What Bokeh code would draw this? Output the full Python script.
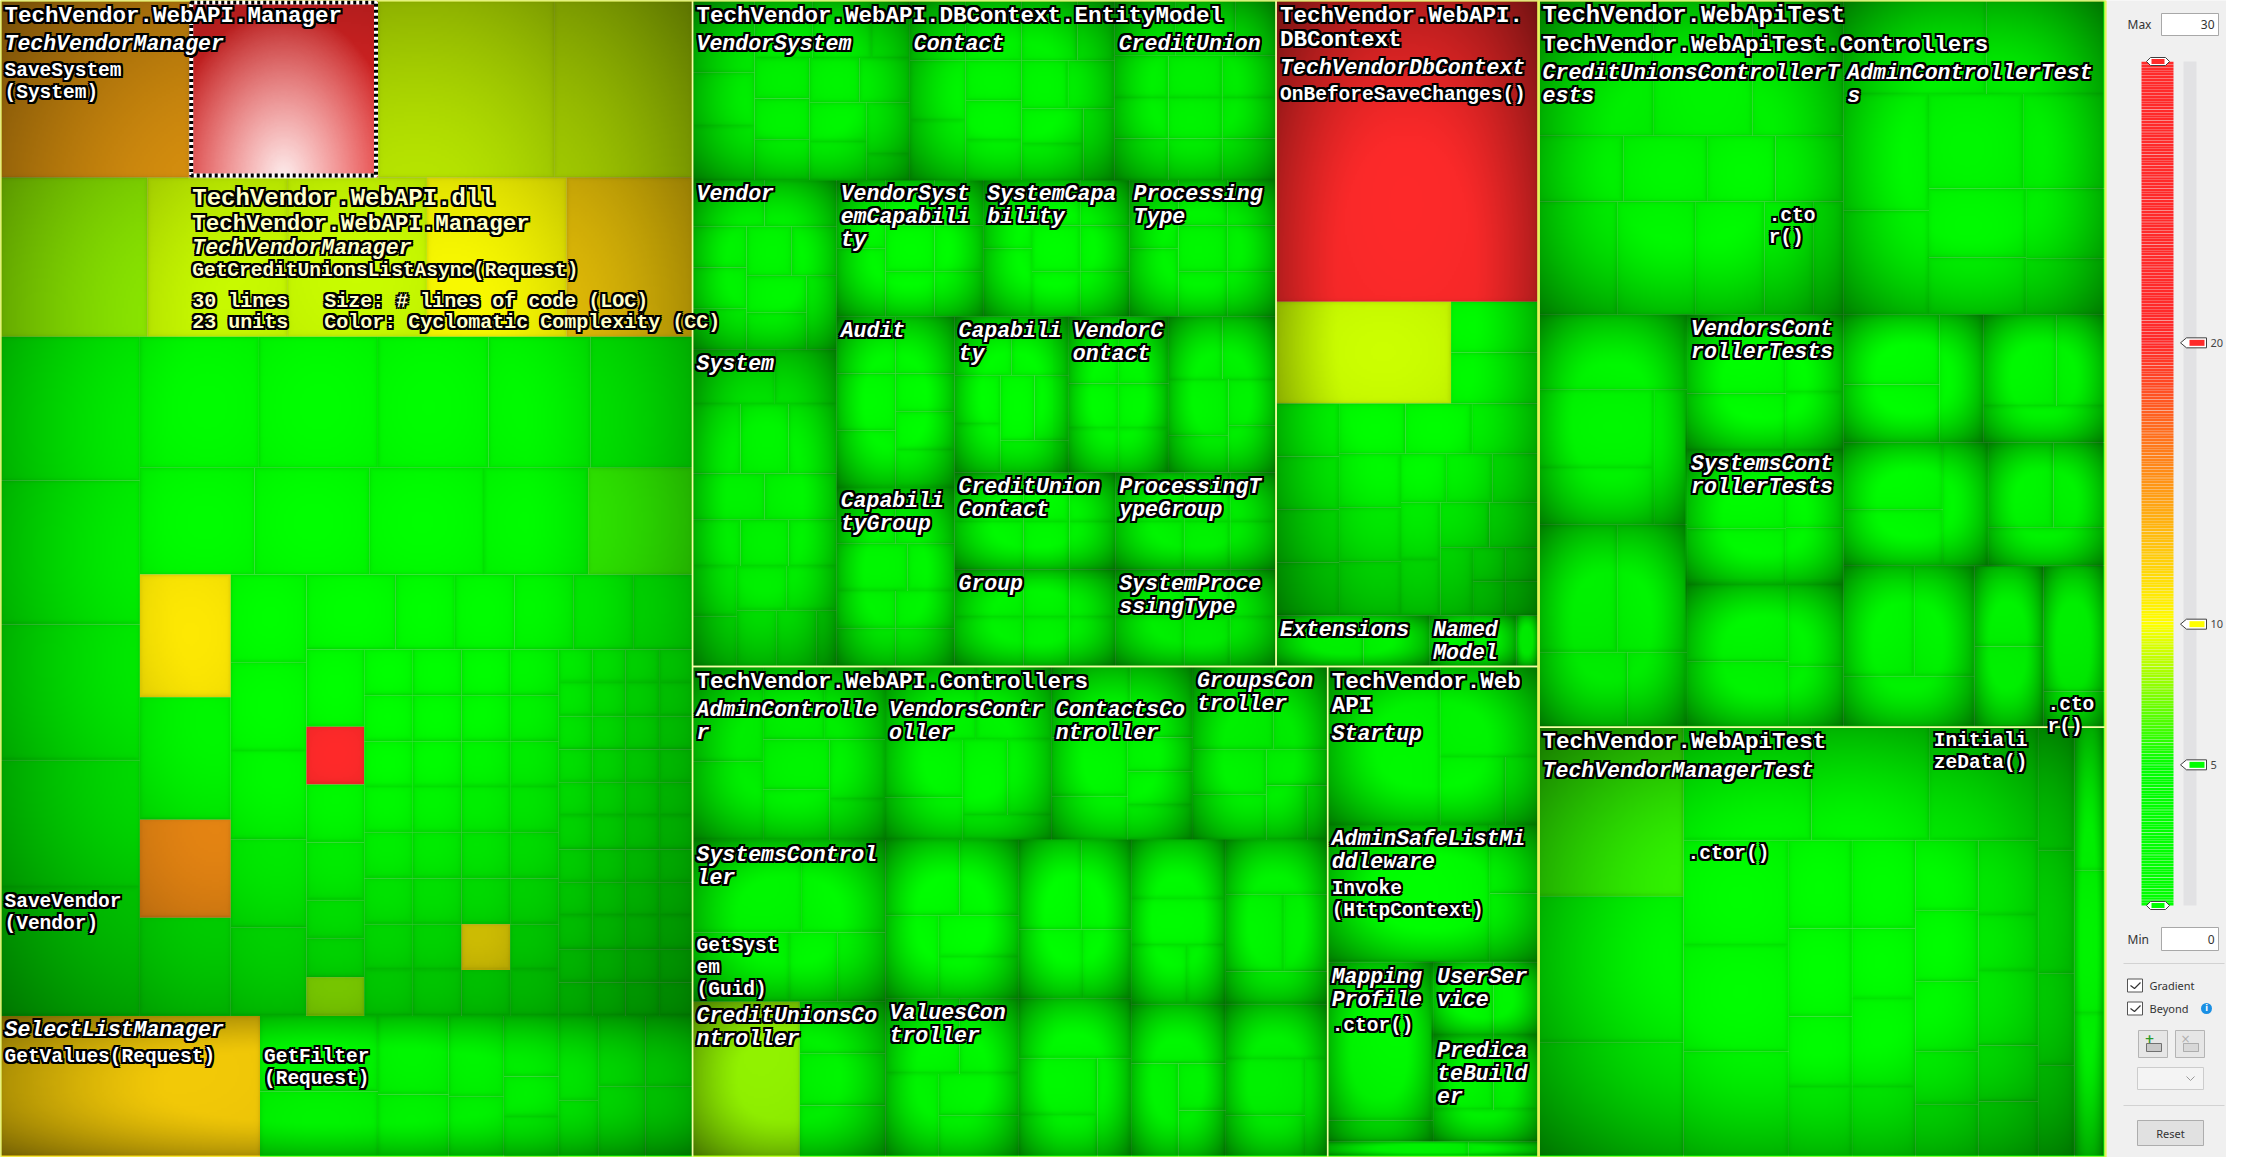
import math
import numpy as np
from bokeh.plotting import figure
from bokeh.core.properties import value
from bokeh.embed import file_html
from bokeh.resources import INLINE

# sizes = lines of code (LOC), colour = cyclomatic complexity (CC)

# --- TechVendor.WebAPI.Manager : TechVendorManager
tvm_row1_loc = [30, 30, 28, 22]
tvm_row1_cc = [14, 23, 9, 9]
tvm_row2_loc = [21, 20, 20, 20, 18]
tvm_row2_cc = [8, 9, 9, 10, 12]
tvm_col1_loc = [18, 18, 17, 16, 16]
tvm_col1_cc = [3, 2, 4, 3, 4]
tvm_rowa_loc = [14, 14, 13, 12, 12]
tvm_rowa_cc = [3, 2, 2, 3, 2]
tvm_rowb_loc = [11, 11, 11, 10, 10]
tvm_rowb_cc = [2, 3, 2, 2, 6]
tvm_colx1_loc = [10, 10, 8, 8]
tvm_colx1_cc = [11, 3, 15, 2]
tvm_colx2_loc = [6, 6, 6, 6, 6]
tvm_colx2_cc = [2, 3, 2, 2, 3]
tvm_rowr1_loc = [6, 4, 4, 4, 4, 4]
tvm_rowr1_cc = [3, 2, 2, 2, 3, 2]
tvm_gridc1_loc = [4, 3, 3, 3, 2, 2, 2]
tvm_gridc1_cc = [3, 22, 2, 3, 2, 2, 8]
tvm_gridmid_loc = [[2, 2, 2, 2, 2, 2, 2, 2],
                   [2, 2, 2, 2, 2, 2, 2, 2],
                   [2, 2, 2, 2, 2, 2, 2, 2],
                   [2, 2, 2, 2, 2, 2, 2, 2]]
tvm_gridmid_cc = [[2, 3, 2, 2, 3, 2, 2, 2],
                  [3, 2, 2, 3, 2, 2, 3, 2],
                  [2, 2, 3, 2, 2, 2, 11, 2],
                  [2, 3, 2, 2, 3, 2, 2, 3]]
tvm_gridright_loc = [[1, 1, 1, 1, 1, 1, 1, 1, 1, 1, 1],
                     [1, 1, 1, 1, 1, 1, 1, 1, 1, 1, 1],
                     [1, 1, 1, 1, 1, 1, 1, 1, 1, 1, 1],
                     [1, 1, 1, 1, 1, 1, 1, 1, 1, 1, 1]]

# --- TechVendor.WebAPI.Manager : SelectListManager
slm_getvalues_loc, slm_getvalues_cc = 33, 12
slm_cols_loc = [[8, 7], [5, 4], [4, 3], [3, 2, 2], [3, 2]]
slm_cols_cc = [[3, 2], [2, 2], [3, 2], [2, 2, 2], [2, 2]]
slm_tail_loc = [[3, 3], [3, 3]]

# --- TechVendor.WebAPI.DBContext.EntityModel (properties, CC 1)
em_vendorsystem = [4, 3, 3, 3, 3, 2, 2, 2, 2, 2, 2, 2, 2, 2, 1]
em_contact = [3, 3, 3, 3, 3, 2, 2, 2, 2, 2, 2, 2, 2, 2]
em_creditunion = [3, 3, 2, 2, 2, 2, 2, 2, 2, 2, 2, 2]
em_vendor = [3, 3, 2, 2, 2, 2, 2, 2, 2, 2]
em_system = [4, 3, 3, 3, 3, 3, 3, 2, 2, 2, 2, 2, 2, 2, 2, 2, 1]
em_vsc = [3, 3, 2, 2, 2, 2, 2, 2]
em_sc = [3, 3, 2, 2, 2, 2, 2, 2]
em_pt = [3, 3, 2, 2, 2, 2, 2, 2]
em_audit = [3, 3, 3, 3, 2, 2, 2]
em_capgroup = [3, 3, 3, 2, 2, 2, 2, 2]
em_capability = [3, 3, 2, 2, 2, 2, 2]
em_vendorcontact = [3, 3, 2, 2, 2, 2]
em_other = [3, 3, 3, 2, 2, 2]
em_cuc = [3, 3, 2, 2, 2, 2]
em_group = [3, 3, 2, 2, 2, 2]
em_ptg = [3, 3, 2, 2, 2, 2]
em_spt = [3, 3, 2, 2, 2, 2]
property_cc = 1

# --- TechVendor.WebAPI.DBContext
dbc_save_loc, dbc_save_cc = 71, 24
dbc_row2_loc = [16, 4, 4]
dbc_row2_cc = [9, 2, 2]
dbc_rest_loc = [3, 3, 3, 3, 3, 3, 3, 3, 3, 3, 2, 2, 2, 2, 2, 2, 2, 2, 1, 1, 1, 1]
dbc_extensions = [4, 3]
dbc_namedmodel = [2, 2]
dbc_small = [1]

# --- TechVendor.WebAPI.Controllers
ctl_admin = [6, 5, 4, 4, 3, 3, 3, 2]
ctl_vendors = [6, 5, 4, 3, 3, 3, 2]
ctl_contacts = [5, 4, 4, 3, 2, 2, 2]
ctl_groups = [6, 4, 3, 3, 2, 2, 1]
ctl_systems_top = [9, 7]
ctl_systems_bottom = [6, 3, 3]
ctl_cu_loc = [15, 4, 4, 4]
ctl_cu_cc = [8, 2, 3, 2]
ctl_u1 = [5, 4, 4, 3, 3]
ctl_values = [5, 4, 4, 3, 3]
ctl_u2 = [5, 4, 4, 3]
ctl_u3 = [6, 4, 3, 3]
ctl_u4 = [5, 4, 3, 2]
ctl_u5 = [5, 4, 2, 2]
ctl_u6 = [5, 4, 3, 3]
ctl_u7 = [5, 4, 3, 2]

# --- TechVendor.WebAPI
api_startup = [16, 8, 4, 2]
api_invoke_loc = 20
api_safelist_rest = [3, 3]
api_mapping = [15, 2]
api_userservice = [4, 3]
api_predicate = [4, 3, 3]
api_bottom = [2, 1]

# --- TechVendor.WebApiTest.Controllers
tc_cuct_row1 = [14, 12, 11]
tc_cuct_row2 = [5, 5, 4, 4]
tc_cuct_row3 = [8, 8, 7, 5, 3]
tc_act = [12, 10, 9, 8, 8, 7, 6, 5, 5, 4]
tc_l1 = [10, 8, 6, 4]
tc_l2 = [9, 8, 6, 4]
tc_vct = [7, 5, 4, 3]
tc_sct = [7, 5, 4, 3]
tc_m3 = [7, 6, 4, 3]
tc_r1a = [6, 5, 5]
tc_r1b = [6, 4, 4]
tc_r2a = [6, 5, 5]
tc_r2b = [5, 4, 4]
tc_r3a = [7, 6, 6]
tc_r3b = [5, 5]
tc_r3c = [7, 2]

# --- TechVendor.WebApiTest : TechVendorManagerTest
tt_coll_loc = [22, 19, 15]
tt_coll_cc = [6, 2, 2]
tt_top_loc = [13, 12, 11]
tt_top_cc = [2, 2, 3]
tt_ctor_loc = [10, 10, 10]
tt_grid_loc = [[5, 5, 4, 4], [5, 4, 5, 4], [4, 4, 4, 3, 3], [4, 3, 4, 3, 3]]
tt_coln_loc = [4, 4, 3, 3]
tt_other_loc = [4, 4, 4]

default_cc = 2

# colour scale of the legend
cc_min, cc_max = 0, 30
legend_ticks = [20, 10, 5]
cc_stops = [(0, (0, 255, 0)), (5, (0, 255, 0)), (10, (255, 255, 0)),
            (20, (255, 42, 42)), (30, (255, 42, 42))]

# ------------------------------------------------------------------ tree
def leaf(loc, cc=None, label=None):
    return {"kind": "leaf", "loc": loc, "cc": default_cc if cc is None else cc,
            "label": label, "level": "method", "kids": []}


def grp(kind, kids, label=None, level=None):
    return {"kind": kind, "kids": list(kids), "label": label, "level": level}


def H(*kids):
    return grp("h", kids)


def V(*kids):
    return grp("v", kids)


def leaves(locs, ccs=None, labels=None, cc=None):
    labels = labels or {}
    out = []
    for i, l in enumerate(locs):
        c = ccs[i] if ccs is not None else cc
        out.append(leaf(l, c, labels.get(i)))
    return out


def row(locs, ccs=None, labels=None, cc=None):
    return grp("h", leaves(locs, ccs, labels, cc))


def col(locs, ccs=None, labels=None, cc=None):
    return grp("v", leaves(locs, ccs, labels, cc))


def members(locs, cc=None):
    return grp("sq", leaves(locs, cc=cc))


def cls(name, body):
    return grp("h", [body], name, "class")


def ecls(name, locs, cc=None):
    return cls(name, members(locs, cc))


def ns(name, body):
    return grp("h", [body], name, "ns")


def asm(name, body):
    return grp("h", [body], name, "asm")


row1 = leaves(tvm_row1_loc, tvm_row1_cc, {0: "SaveSystem\n(System)"})
hover = row1[1]
tvm = cls("TechVendorManager", V(
    grp("h", row1),
    row(tvm_row2_loc, tvm_row2_cc),
    H(col(tvm_col1_loc, tvm_col1_cc, {4: "SaveVendor\n(Vendor)"}),
      V(row(tvm_rowa_loc, tvm_rowa_cc),
        row(tvm_rowb_loc, tvm_rowb_cc),
        H(col(tvm_colx1_loc, tvm_colx1_cc),
          col(tvm_colx2_loc, tvm_colx2_cc),
          V(row(tvm_rowr1_loc, tvm_rowr1_cc),
            H(col(tvm_gridc1_loc, tvm_gridc1_cc),
              *[col(l, c) for l, c in zip(tvm_gridmid_loc, tvm_gridmid_cc)],
              *[col(l) for l in tvm_gridright_loc])))))))

slm = cls("SelectListManager", H(
    leaf(slm_getvalues_loc, slm_getvalues_cc, "GetValues(Request)"),
    col(slm_cols_loc[0], slm_cols_cc[0], {0: "GetFilter\n(Request)"}),
    *[col(l, c) for l, c in zip(slm_cols_loc[1:], slm_cols_cc[1:])],
    H(*[col(l) for l in slm_tail_loc])))

ns_manager = ns("TechVendor.WebAPI.Manager", V(tvm, slm))

P = property_cc
ns_entity = ns("TechVendor.WebAPI.DBContext.EntityModel", V(
    H(ecls("VendorSystem", em_vendorsystem, P), ecls("Contact", em_contact, P),
      ecls("CreditUnion", em_creditunion, P)),
    H(V(ecls("Vendor", em_vendor, P), ecls("System", em_system, P)),
      V(H(ecls("VendorSyst\nemCapabili\nty", em_vsc, P), ecls("SystemCapa\nbility", em_sc, P),
          ecls("Processing\nType", em_pt, P)),
        H(V(ecls("Audit", em_audit, P), ecls("Capabili\ntyGroup", em_capgroup, P)),
          V(H(ecls("Capabili\nty", em_capability, P), ecls("VendorC\nontact", em_vendorcontact, P),
              ecls(None, em_other, P)),
            H(V(ecls("CreditUnion\nContact", em_cuc, P), ecls("Group", em_group, P)),
              V(ecls("ProcessingT\nypeGroup", em_ptg, P), ecls("SystemProce\nssingType", em_spt, P)))))))))

ns_dbctx = ns("TechVendor.WebAPI.\nDBContext", V(
    cls("TechVendorDbContext", V(
        leaf(dbc_save_loc, dbc_save_cc, "OnBeforeSaveChanges()"),
        H(leaf(dbc_row2_loc[0], dbc_row2_cc[0]), col(dbc_row2_loc[1:], dbc_row2_cc[1:])),
        members(dbc_rest_loc))),
    H(ecls("Extensions", dbc_extensions), ecls("Named\nModel", dbc_namedmodel), ecls(None, dbc_small))))

ns_ctl = ns("TechVendor.WebAPI.Controllers", V(
    H(ecls("AdminControlle\nr", ctl_admin), ecls("VendorsContr\noller", ctl_vendors),
      ecls("ContactsCo\nntroller", ctl_contacts), ecls("GroupsCon\ntroller", ctl_groups)),
    H(V(cls("SystemsControl\nler", V(row(ctl_systems_top),
                                     row(ctl_systems_bottom, labels={0: "GetSyst\nem\n(Guid)"}))),
        cls("CreditUnionsCo\nntroller", H(leaf(ctl_cu_loc[0], ctl_cu_cc[0]),
                                           col(ctl_cu_loc[1:], ctl_cu_cc[1:])))),
      V(ecls(None, ctl_u1), ecls("ValuesCon\ntroller", ctl_values)),
      V(ecls(None, ctl_u2), ecls(None, ctl_u3)),
      V(ecls(None, ctl_u4), ecls(None, ctl_u5)),
      V(ecls(None, ctl_u6), ecls(None, ctl_u7)))))

ns_api = ns("TechVendor.Web\nAPI", V(
    ecls("Startup", api_startup),
    cls("AdminSafeListMi\nddleware", H(leaf(api_invoke_loc, 3, "Invoke\n(HttpContext)"),
                                        col(api_safelist_rest))),
    H(cls("Mapping\nProfile", col(api_mapping, labels={0: ".ctor()"})),
      V(ecls("UserSer\nvice", api_userservice), ecls("Predica\nteBuild\ner", api_predicate))),
    ecls(None, api_bottom)))

asm_api = asm(None, H(ns_manager, V(H(ns_entity, ns_dbctx), H(ns_ctl, ns_api))))

ns_tctl = ns("TechVendor.WebApiTest.Controllers", V(
    H(cls("CreditUnionsControllerT\nests", V(row(tc_cuct_row1), row(tc_cuct_row2),
                                             row(tc_cuct_row3, labels={3: ".cto\nr()"}))),
      ecls("AdminControllerTest\ns", tc_act)),
    H(V(ecls(None, tc_l1), ecls(None, tc_l2)),
      V(ecls("VendorsCont\nrollerTests", tc_vct), ecls("SystemsCont\nrollerTests", tc_sct), ecls(None, tc_m3)),
      V(H(ecls(None, tc_r1a), ecls(None, tc_r1b)),
        H(ecls(None, tc_r2a), ecls(None, tc_r2b)),
        H(ecls(None, tc_r3a), ecls(None, tc_r3b), cls(None, col(tc_r3c, labels={1: ".cto\nr()"})))))))

ns_ttest = ns("TechVendor.WebApiTest", H(
    cls("TechVendorManagerTest", H(
        col(tt_coll_loc, tt_coll_cc),
        V(row(tt_top_loc, tt_top_cc, {2: "Initiali\nzeData()"}),
          H(col(tt_ctor_loc, labels={0: ".ctor()"}), *[col(l) for l in tt_grid_loc])),
        col(tt_coln_loc))),
    cls(None, col(tt_other_loc))))

asm_test = asm("TechVendor.WebApiTest", V(ns_tctl, ns_ttest))
root = H(asm_api, asm_test)

# ------------------------------------------------------------------ layout
FIG_W, FIG_H = 2226, 1157
TM_W, TM_H = 2105, 1157


def size(n):
    if "size" not in n:
        n["size"] = n["loc"] if n["kind"] == "leaf" else sum(size(k) for k in n["kids"])
    return n["size"]


def worst(rw, side):
    s = sum(rw)
    return max(max(side * side * r / (s * s), (s * s) / (side * side * r)) for r in rw)


def squarify(areas, x, y, w, h):
    out, areas = [], list(areas)
    while areas:
        if len(areas) == 1:
            out.append((x, y, x + w, y + h))
            break
        side = min(w, h)
        rw, i = [areas[0]], 1
        while i < len(areas) and worst(rw + [areas[i]], side) <= worst(rw, side):
            rw.append(areas[i])
            i += 1
        areas = areas[i:]
        s = sum(rw)
        if w >= h:
            cw, yy = s / h, y
            for a in rw:
                out.append((x, yy, x + cw, yy + a / cw))
                yy += a / cw
            x, w = x + cw, w - cw
        else:
            rh, xx = s / w, x
            for a in rw:
                out.append((xx, y, xx + a / rh, y + rh))
                xx += a / rh
            y, h = y + rh, h - rh
    return out


nodes = []


def place(n, x0, y0, x1, y1, parent=None):
    n["rect"], n["parent"] = (x0, y0, x1, y1), parent
    nodes.append(n)
    kids = n["kids"]
    if not kids:
        return
    tot = sum(size(k) for k in kids)
    if n["kind"] == "h":
        x = x0
        for k in kids:
            w = (x1 - x0) * size(k) / tot
            place(k, x, y0, x + w, y1, n)
            x += w
    elif n["kind"] == "v":
        y = y0
        for k in kids:
            h = (y1 - y0) * size(k) / tot
            place(k, x0, y, x1, y + h, n)
            y += h
    else:
        area = (x1 - x0) * (y1 - y0)
        rects = squarify([size(k) / tot * area for k in kids], x0, y0, x1 - x0, y1 - y0)
        for k, r in zip(kids, rects):
            place(k, *r, n)


place(root, 0, 0, TM_W, TM_H)


def Y(y):
    return FIG_H - y


def cc_color(c):
    for (v0, c0), (v1, c1) in zip(cc_stops[:-1], cc_stops[1:]):
        if c <= v1:
            t = 0 if v1 == v0 else (c - v0) / (v1 - v0)
            t = min(max(t, 0), 1)
            rgb = [round(a + (b - a) * t) for a, b in zip(c0, c1)]
            return "#%02x%02x%02x" % tuple(rgb)
    return "#%02x%02x%02x" % cc_stops[-1][1]


p = figure(width=FIG_W, height=FIG_H, x_range=(0, FIG_W), y_range=(0, FIG_H),
           output_backend="svg", toolbar_location=None, min_border=0)
p.axis.visible = False
p.grid.visible = False
p.outline_line_color = None
p.background_fill_color = "#f0f0f0"
p.border_fill_color = "#f0f0f0"

leaf_nodes = [n for n in nodes if n["kind"] == "leaf"]
p.quad(left=[n["rect"][0] for n in leaf_nodes], right=[n["rect"][2] for n in leaf_nodes],
       top=[Y(n["rect"][1]) for n in leaf_nodes], bottom=[Y(n["rect"][3]) for n in leaf_nodes],
       fill_color=[cc_color(n["cc"]) for n in leaf_nodes], line_color=None)

# cushion shading overlay
R = 2
iw, ih = int(math.ceil(TM_W / R)), int(math.ceil(TM_H / R))
gx = (np.arange(iw) + 0.5) * R
gy = (np.arange(ih) + 0.5) * R
S = np.ones((ih, iw))
W = np.zeros((ih, iw))
for n in nodes:
    x0, y0, x1, y1 = n["rect"]
    i0, i1 = np.searchsorted(gx, x0), np.searchsorted(gx, x1)
    j0, j1 = np.searchsorted(gy, y0), np.searchsorted(gy, y1)
    if i1 <= i0 or j1 <= j0:
        continue
    u = 2 * (gx[i0:i1] - x0) / (x1 - x0) - 1
    v = 2 * (gy[j0:j1] - y0) / (y1 - y0) - 1
    U, Vv = np.meshgrid(u, v)
    if n["level"] == "class":
        r = (np.abs(U) ** 2.4 + np.abs(Vv) ** 2.4) ** (1 / 2.4)
        t = np.clip((r - 0.52) / 0.82, 0, 1)
        f = 1 - 0.48 * t ** 1.3
    elif n["level"] == "ns":
        f = 1 - 0.10 * (U * U + Vv * Vv) / 2
    elif n["kind"] == "leaf":
        ex = np.minimum(gx[i0:i1] - x0, x1 - gx[i0:i1])
        ey = np.minimum(gy[j0:j1] - y0, y1 - gy[j0:j1])
        de = np.minimum(ex[None, :], ey[:, None])
        f = (1 - 0.05 * (U * U + Vv * Vv) / 2) * (1 - 0.10 * np.exp(-de / 1.6))
    else:
        continue
    S[j0:j1, i0:i1] *= f
    if n is hover:
        cx = (x0 + x1) / 2
        rr = np.sqrt(((gx[i0:i1][None, :] - cx) / (0.62 * (x1 - x0))) ** 2 +
                     ((gy[j0:j1][:, None] - y1) / (0.95 * (y1 - y0))) ** 2)
        W[j0:j1, i0:i1] = np.clip(1 - rr, 0, 1) ** 0.9 * 0.92
A = 1 - S * (1 - W)
C = np.where(A > 1e-6, 255 * W / np.maximum(A, 1e-6), 0)
rgba = np.zeros((ih, iw, 4), dtype=np.uint8)
rgba[..., 0] = rgba[..., 1] = rgba[..., 2] = np.clip(C, 0, 255).astype(np.uint8)
rgba[..., 3] = np.clip(A * 255, 0, 255).astype(np.uint8)
img = np.ascontiguousarray(rgba[::-1]).view(np.uint32).reshape(ih, iw)
p.image_rgba(image=[img], x=0, y=0, dw=TM_W, dh=TM_H)

# namespace / assembly borders
for lvl, col_, lw in (("ns", "#f4ffa6", 1.4), ("asm", "#e4f45a", 2.2)):
    sel = [n for n in nodes if n["level"] == lvl]
    p.quad(left=[n["rect"][0] for n in sel], right=[n["rect"][2] for n in sel],
           top=[Y(n["rect"][1]) for n in sel], bottom=[Y(n["rect"][3]) for n in sel],
           fill_color=None, line_color=col_, line_width=lw)

hx0, hy0, hx1, hy1 = hover["rect"]
p.quad(left=hx0 + 2, right=hx1 - 2, top=Y(hy0 + 2), bottom=Y(hy1 - 2),
       fill_color=None, line_color="white", line_width=4)
p.quad(left=hx0 + 2, right=hx1 - 2, top=Y(hy0 + 2), bottom=Y(hy1 - 2),
       fill_color=None, line_color="black", line_width=4, line_dash="3 3")

# ------------------------------------------------------------------ labels
STYLES = {"asm": (24, "bold", 24, 5), "ns": (22.5, "bold", 24, 5),
          "class": (21.5, "bold italic", 23, 4), "method": (19.5, "bold", 22, 1)}
RANK = {"asm": 0, "ns": 1, "class": 2, "method": 3}
MARGIN = 48
PAD_TOP = 3
text_groups = {}


def add_text(x, y, s, fsize, fstyle, color):
    text_groups.setdefault((fsize, fstyle, color), []).append((x, y, s))


placed = {}
labelled = sorted([(RANK[n["level"]], i, n) for i, n in enumerate(nodes) if n.get("label")],
                  key=lambda t: (t[0], t[1]))
for _, _, n in labelled:
    fsize, fstyle, lh, gap = STYLES[n["level"]]
    lines = n["label"].split("\n")
    w = max(len(s) for s in lines) * 0.6 * fsize
    h = len(lines) * lh + gap
    x, y = n["rect"][0] + 4, n["rect"][1] + PAD_TOP
    boxes = []
    a = n["parent"]
    while a is not None:
        if id(a) in placed:
            boxes.append(placed[id(a)])
        a = a["parent"]
    moved = True
    while moved:
        moved = False
        for bx0, bx1, by0, by1 in boxes:
            if x < bx1 + MARGIN and x + w > bx0 and y < by1 and y + h > by0:
                y, moved = by1, True
    placed[id(n)] = (x, x + w, y, y + h)
    for i, s in enumerate(lines):
        add_text(x, y + lh * (i + 0.5), s, fsize, fstyle, "white")

# hover tooltip
tip_lines = [("TechVendor.WebAPI.dll", None), ("TechVendor.WebAPI.Manager", None),
             ("TechVendorManager", None), ("GetCreditUnionsListAsync(Request)", None),
             ("%d lines" % hover["loc"], "Size: # lines of code (LOC)"),
             ("%d units" % hover["cc"], "Color: Cyclomatic Complexity (CC)")]
tip_dy = [0, 25, 49, 72, 103, 124]
tip_size = [24, 22.5, 21.5, 19.5, 20, 20]
tip_style = ["bold", "bold", "bold italic", "bold", "bold", "bold"]
for (s, s2), dy, fs, st in zip(tip_lines, tip_dy, tip_size, tip_style):
    add_text(hx0 + 3, hy1 + 21 + dy, s, fs, st, "#ffffc8")
    if s2:
        add_text(hx0 + 3 + 11 * 0.6 * fs, hy1 + 21 + dy, s2, fs, st, "#ffffc8")

HALO = [(-2, 0), (2, 0), (0, -2), (0, 2), (-2, -2), (2, 2), (-2, 2), (2, -2)]
for (fsize, fstyle, color), items in text_groups.items():
    xs = [t[0] for t in items]
    ys = [Y(t[1]) for t in items]
    ss = [t[2] for t in items]
    kw = dict(text_font=value("Liberation Mono"), text_font_size="%.1fpx" % fsize,
              text_font_style=fstyle, text_baseline="middle", text_align="left")
    for dx, dy in HALO:
        p.text(x=xs, y=ys, text=ss, text_color="black", x_offset=dx, y_offset=dy, **kw)
    p.text(x=xs, y=ys, text=ss, text_color=color, **kw)

# ------------------------------------------------------------------ legend panel
UI = dict(text_font=value("Noto Sans"), text_font_size="12px", text_color="#333333",
          text_baseline="middle")
bar_x0, bar_x1, bar_top, bar_bot = 2141, 2173, 61, 905


def val2y(v):
    return bar_bot - (bar_bot - bar_top) * (v - cc_min) / (cc_max - cc_min)


p.text(x=[2127], y=[Y(24)], text=["Max"], **UI)
p.quad(left=2161, right=2218, top=Y(13), bottom=Y(35), fill_color="white", line_color="#a8a8a8")
p.text(x=[2214], y=[Y(24)], text=[str(cc_max)], text_align="right", **UI)
p.text(x=[2127], y=[Y(939)], text=["Min"], **UI)
p.quad(left=2161, right=2218, top=Y(927), bottom=Y(950), fill_color="white", line_color="#a8a8a8")
p.text(x=[2214], y=[Y(939)], text=[str(cc_min)], text_align="right", **UI)

steps = np.arange(cc_min, cc_max, 0.1)
p.quad(left=bar_x0, right=bar_x1, top=[Y(val2y(v + 0.1)) - 0.3 for v in steps],
       bottom=[Y(val2y(v)) for v in steps], fill_color=[cc_color(v + 0.05) for v in steps],
       line_color=None)
p.quad(left=2183, right=2196, top=Y(bar_top), bottom=Y(bar_bot), fill_color="#e2e2e4", line_color=None)

for v in legend_ticks:
    yc = val2y(v)
    p.patch(x=[2180, 2186, 2206, 2206, 2186], y=[Y(yc), Y(yc - 5), Y(yc - 5), Y(yc + 5), Y(yc + 5)],
            fill_color="white", line_color="#404040", line_width=1)
    p.quad(left=2189, right=2204, top=Y(yc - 3), bottom=Y(yc + 3), fill_color=cc_color(v), line_color=None)
p.text(x=[2210] * len(legend_ticks), y=[Y(val2y(v)) for v in legend_ticks],
       text=[str(v) for v in legend_ticks],
       **{**UI, "text_font_size": "11px", "text_color": "#444444"})
for v in (cc_max, cc_min):
    yc = val2y(v)
    p.patch(x=[2146, 2150, 2165, 2169, 2165, 2150], y=[Y(yc), Y(yc - 4), Y(yc - 4), Y(yc), Y(yc + 4), Y(yc + 4)],
            fill_color="white", line_color="#404040", line_width=1)
    p.quad(left=2151, right=2164, top=Y(yc - 2.5), bottom=Y(yc + 2.5), fill_color=cc_color(v), line_color=None)

p.segment(x0=[2123, 2123], x1=[2224, 2224], y0=[Y(963), Y(1105)], y1=[Y(963), Y(1105)],
          line_color="#d2d2d2", line_width=1)
for yc, name in ((985, "Gradient"), (1008, "Beyond")):
    p.quad(left=2127, right=2142, top=Y(yc - 6.5), bottom=Y(yc + 6.5), fill_color="white", line_color="#555555")
    p.line(x=[2130, 2134, 2140], y=[Y(yc), Y(yc + 3), Y(yc - 3)], line_color="#333333", line_width=1.2)
    p.text(x=[2149], y=[Y(yc)], text=[name], **{**UI, "text_font_size": "11px"})
p.circle(x=[2206], y=[Y(1008)], radius=5.5, fill_color="#1a8fe3", line_color=None)
p.text(x=[2206], y=[Y(1008)], text=["i"], text_align="center", text_baseline="middle",
       text_font=value("DejaVu Sans"), text_font_style="bold", text_font_size="8px", text_color="white")

for bx0, bx1, alpha in ((2138, 2167, 1.0), (2175, 2204, 0.45)):
    p.quad(left=bx0, right=bx1, top=Y(1030), bottom=Y(1057), fill_color="#e6e6e6", line_color="#b4b4b4")
    p.quad(left=bx0 + 8, right=bx1 - 6, top=Y(1043), bottom=Y(1051), fill_color="#c8c8c8",
           line_color="#707070", fill_alpha=alpha, line_alpha=alpha)
p.text(x=[2144], y=[Y(1038)], text=["+"], text_font=value("DejaVu Sans"), text_font_style="bold",
       text_font_size="12px", text_color="#2a9a2a", text_baseline="middle")
p.text(x=[2180], y=[Y(1038)], text=["×"], text_font=value("DejaVu Sans"), text_font_size="12px",
       text_color="#b0b0b0", text_baseline="middle")
p.quad(left=2137, right=2203, top=Y(1067), bottom=Y(1089), fill_color="#f4f4f4", line_color="#cccccc")
p.line(x=[2186, 2190, 2194], y=[Y(1076), Y(1080), Y(1076)], line_color="#999999", line_width=1)
p.quad(left=2137, right=2203, top=Y(1120), bottom=Y(1145), fill_color="#e1e1e1", line_color="#adadad")
p.text(x=[2170], y=[Y(1133)], text=["Reset"], text_align="center", **{**UI, "text_font_size": "11px"})

open("out.html", "w").write(file_html(p, INLINE))
